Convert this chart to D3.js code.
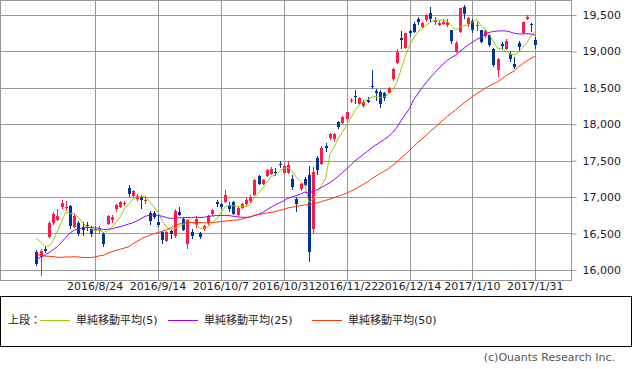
<!DOCTYPE html>
<html>
<head>
<meta charset="utf-8">
<script src="https://cdn.jsdelivr.net/npm/d3@7"></script>
<style>
  body { margin: 0; background: #fff; }
  svg { display: block; }
  text { font-family: "DejaVu Sans", "Noto Sans CJK JP", sans-serif; }
</style>
</head>
<body>
<div id="chart"></div>
<script>
// trading days shown (2016/8/3 .. 2017/1/31)
var dates = [
  '2016/8/3','2016/8/4','2016/8/5','2016/8/8','2016/8/9','2016/8/10','2016/8/12','2016/8/15','2016/8/16','2016/8/17',
  '2016/8/18','2016/8/19','2016/8/22','2016/8/23','2016/8/24','2016/8/25','2016/8/26','2016/8/29','2016/8/30','2016/8/31',
  '2016/9/1','2016/9/2','2016/9/5','2016/9/6','2016/9/7','2016/9/8','2016/9/9','2016/9/12','2016/9/13','2016/9/14',
  '2016/9/15','2016/9/16','2016/9/20','2016/9/21','2016/9/23','2016/9/26','2016/9/27','2016/9/28','2016/9/29','2016/9/30',
  '2016/10/3','2016/10/4','2016/10/5','2016/10/6','2016/10/7','2016/10/11','2016/10/12','2016/10/13','2016/10/14','2016/10/17',
  '2016/10/18','2016/10/19','2016/10/20','2016/10/21','2016/10/24','2016/10/25','2016/10/26','2016/10/27','2016/10/28','2016/10/31',
  '2016/11/1','2016/11/2','2016/11/4','2016/11/7','2016/11/8','2016/11/9','2016/11/10','2016/11/11','2016/11/14','2016/11/15',
  '2016/11/16','2016/11/17','2016/11/18','2016/11/21','2016/11/22','2016/11/24','2016/11/25','2016/11/28','2016/11/29','2016/11/30',
  '2016/12/1','2016/12/2','2016/12/5','2016/12/6','2016/12/7','2016/12/8','2016/12/9','2016/12/12','2016/12/13','2016/12/14',
  '2016/12/15','2016/12/16','2016/12/19','2016/12/20','2016/12/21','2016/12/22','2016/12/26','2016/12/27','2016/12/28','2016/12/29',
  '2016/12/30','2017/1/4','2017/1/5','2017/1/6','2017/1/10','2017/1/11','2017/1/12','2017/1/13','2017/1/16','2017/1/17',
  '2017/1/18','2017/1/19','2017/1/20','2017/1/23','2017/1/24','2017/1/25','2017/1/26','2017/1/27','2017/1/30','2017/1/31'
];

var opens = [
  16245,16175,16285,16450,16640,16690,16865,16850,16880,16590,
  16650,16590,16620,16565,16530,16545,16490,16630,16680,16830,
  16870,16900,17130,17020,16975,17005,16940,16780,16780,16660,
  16520,16400,16540,16470,16790,16700,16360,16520,16620,16500,
  16560,16640,16770,16930,16900,16930,16890,16930,16750,16850,
  16900,16945,17023,17288,17180,17288,17320,17350,17450,17330,
  17330,17250,16980,17110,17250,17300,16560,17530,17460,17700,
  17815,17800,18030,18017,18077,18315,18390,18285,18250,18340,
  18530,18460,18450,18430,18430,18620,18840,19180,19045,19280,
  19380,19440,19335,19430,19535,19400,19370,19380,19370,19290,
  18995,19270,19615,19384,19420,19345,19290,19215,19220,19040,
  18742,19100,19040,18970,18834,19110,19250,19452,19375,19160
];
var highs = [
  16270,16290,16330,16670,16790,16830,16960,16940,16890,16770,
  16670,16656,16660,16600,16600,16600,16518,16760,16760,16910,
  16950,16950,17160,17100,17040,17030,17010,16803,16810,16780,
  16530,16530,16560,16830,16860,16720,16700,16560,16740,16520,
  16620,16750,16840,16960,16920,17100,16930,16940,16880,16920,
  16990,17030,17250,17300,17250,17390,17410,17394,17500,17450,
  17490,17300,17000,17190,17280,17420,17412,17560,17700,17740,
  17885,17885,18040,18120,18170,18360,18476,18370,18340,18380,
  18750,18490,18470,18440,18510,18770,19040,19278,19260,19300,
  19400,19470,19410,19520,19604,19477,19420,19440,19440,19300,
  19140,19594,19635,19480,19440,19400,19300,19300,19240,19050,
  18910,19130,19165,19000,18925,19140,19410,19500,19390,19195
];
var lows = [
  16050,15920,16235,16440,16620,16665,16840,16815,16560,16570,
  16470,16460,16540,16450,16490,16510,16312,16610,16650,16800,
  16850,16880,17000,17000,16950,16840,16900,16610,16700,16590,
  16360,16380,16430,16440,16740,16530,16290,16420,16580,16420,
  16540,16620,16740,16870,16830,16920,16800,16760,16730,16830,
  16880,16920,17010,17160,17160,17270,17300,17283,17404,17320,
  17320,17092,16793,17090,17150,16110,16500,17300,17440,17620,
  17780,17760,17940,18000,18060,18290,18284,18260,18230,18290,
  18480,18320,18230,18320,18410,18600,18830,19040,19030,19200,
  19250,19370,19310,19410,19406,19362,19350,19360,19340,19100,
  18980,19260,19450,19340,19260,19280,19110,19180,19060,18780,
  18650,19026,19020,18860,18765,18990,19240,19431,19268,19030
];
var closes = [
  16083,16254,16254,16650,16764,16735,16919,16869,16596,16745,
  16486,16545,16598,16497,16555,16556,16360,16737,16725,16887,
  16926,16925,17037,17081,17012,16958,16965,16672,16729,16614,
  16405,16519,16492,16807,16754,16544,16683,16465,16693,16449,
  16598,16735,16819,16899,16860,17024,16840,16774,16856,16900,
  16963,16998,17235,17184,17234,17365,17391,17336,17446,17425,
  17442,17134,16905,17177,17171,16251,17344,17374,17672,17668,
  17862,17862,17967,18106,18162,18333,18381,18356,18307,18308,
  18513,18426,18274,18360,18496,18765,18996,19155,19250,19253,
  19273,19401,19391,19494,19444,19427,19396,19403,19401,19145,
  19114,19594,19520,19454,19301,19364,19134,19287,19095,18813,
  18894,19072,19137,18891,18787,19057,19402,19467,19368,19090
];

// closes before the first shown day (2016/5/25 .. 2016/8/2), used by the moving averages
var priorCloses = [
  16757,16772,16834,16955,17235,
  16955,16562,16642,16580,16675,16830,16668,16601,16019,15859,
  15919,15434,15599,15965,16169,16065,16238,14952,15309,15323,
  15566,15575,15682,15775,15669,15378,15276,15106,15708,16095,
  16231,16385,16497,16723,16681,16810,16627,16620,16383,16664,
  16476,16569,16635,16391
];

var yTicks = [16000, 16500, 17000, 17500, 18000, 18500, 19000, 19500];
var xTickLabels = ['2016/8/24','2016/9/14','2016/10/7','2016/10/31','2016/11/22','2016/12/14','2017/1/10','2017/1/31'];

var maPeriods = [5, 25, 50];
var maColors = ['#99cc00', '#9900ff', '#ff3300'];
var legendLabels = ['単純移動平均(5)', '単純移動平均(25)', '単純移動平均(50)'];

var width = 633, height = 369;
var plotLeft = 0.5, plotRight = 571.5, plotTop = 0.5, plotBottom = 280.5;

var svg = d3.select('#chart').append('svg')
  .attr('width', width)
  .attr('height', height);

var x = d3.scaleLinear()
  .domain([0, dates.length - 1])
  .range([36.4, 535.3]);

var y = d3.scaleLinear()
  .domain([15854, 19700])
  .range([plotBottom, plotTop]);

// grid
var grid = svg.append('g').attr('shape-rendering', 'crispEdges');

grid.selectAll('line.hgrid').data(yTicks).enter().append('line')
  .attr('class', 'hgrid')
  .attr('x1', plotLeft).attr('x2', plotRight)
  .attr('y1', function(d) { return Math.round(y(d)) + 0.5; })
  .attr('y2', function(d) { return Math.round(y(d)) + 0.5; })
  .attr('stroke', '#999');

grid.selectAll('line.vgrid').data(xTickLabels).enter().append('line')
  .attr('class', 'vgrid')
  .attr('x1', function(d) { return Math.round(x(dates.indexOf(d))) + 0.5; })
  .attr('x2', function(d) { return Math.round(x(dates.indexOf(d))) + 0.5; })
  .attr('y1', plotTop).attr('y2', plotBottom)
  .attr('stroke', '#999');

grid.append('rect')
  .attr('x', plotLeft).attr('y', plotTop)
  .attr('width', plotRight - plotLeft).attr('height', plotBottom - plotTop)
  .attr('fill', 'none')
  .attr('stroke', '#999');

// y axis on the right
var yAxis = d3.axisRight(y)
  .tickValues(yTicks)
  .tickSize(5)
  .tickPadding(6)
  .tickFormat(d3.format(','));

var yAxisG = svg.append('g')
  .attr('transform', 'translate(' + plotRight + ',0)')
  .call(yAxis);
yAxisG.select('.domain').remove();
yAxisG.selectAll('.tick line').attr('stroke', '#999');
yAxisG.selectAll('.tick text')
  .attr('fill', '#222')
  .style('font-size', '11px')
  .style('font-family', '"DejaVu Sans", sans-serif');

// x labels
svg.append('g').selectAll('text').data(xTickLabels).enter().append('text')
  .attr('x', function(d) { return x(dates.indexOf(d)); })
  .attr('y', 290)
  .attr('text-anchor', 'middle')
  .attr('fill', '#222')
  .style('font-size', '11px')
  .text(function(d) { return d; });

// candles
var candles = dates.map(function(d, i) {
  return { date: d, open: opens[i], high: highs[i], low: lows[i], close: closes[i], i: i };
});

var candleG = svg.append('g').attr('shape-rendering', 'crispEdges');

candleG.selectAll('line.wick').data(candles).enter().append('line')
  .attr('class', 'wick')
  .attr('x1', function(d) { return Math.round(x(d.i)) + 0.5; })
  .attr('x2', function(d) { return Math.round(x(d.i)) + 0.5; })
  .attr('y1', function(d) { return y(d.high); })
  .attr('y2', function(d) { return y(d.low); })
  .attr('stroke', function(d) { return d.close >= d.open ? '#ff1a4a' : '#003399'; });

candleG.selectAll('rect.body').data(candles).enter().append('rect')
  .attr('class', 'body')
  .attr('x', function(d) { return Math.round(x(d.i)) - 1; })
  .attr('width', 3)
  .attr('y', function(d) { return y(Math.max(d.open, d.close)); })
  .attr('height', function(d) { return Math.max(1, Math.abs(y(d.open) - y(d.close))); })
  .attr('fill', function(d) { return d.close >= d.open ? '#ff1a4a' : '#003399'; });

// moving averages
var allCloses = priorCloses.concat(closes);
var offset = priorCloses.length;

function movingAverage(n) {
  return closes.map(function(c, i) {
    var end = i + offset + 1;
    return d3.mean(allCloses.slice(end - n, end));
  });
}

var line = d3.line()
  .x(function(d, i) { return x(i); })
  .y(function(d) { return y(d); });

maPeriods.forEach(function(n, k) {
  svg.append('path')
    .datum(movingAverage(n))
    .attr('d', line)
    .attr('fill', 'none')
    .attr('stroke', maColors[k])
    .attr('stroke-width', 1);
});

// legend box
var legend = svg.append('g');
legend.append('rect')
  .attr('x', 0.5).attr('y', 296.5)
  .attr('width', 631).attr('height', 50)
  .attr('fill', 'none')
  .attr('stroke', '#000')
  .attr('shape-rendering', 'crispEdges');

legend.append('text')
  .attr('x', 8).attr('y', 324)
  .style('font-size', '11px')
  .attr('fill', '#222')
  .text('上段：');

var legendX = [40, 168, 312];
legendLabels.forEach(function(label, k) {
  legend.append('line')
    .attr('x1', legendX[k]).attr('x2', legendX[k] + 30)
    .attr('y1', 320.5).attr('y2', 320.5)
    .attr('stroke', maColors[k])
    .attr('shape-rendering', 'crispEdges');
  legend.append('text')
    .attr('x', legendX[k] + 36).attr('y', 324)
    .style('font-size', '11px')
    .attr('fill', '#222')
    .text(label);
});

svg.append('text')
  .attr('x', 615).attr('y', 361)
  .attr('text-anchor', 'end')
  .style('font-size', '11px')
  .attr('fill', '#555')
  .text('(c)Ouants Research Inc.');
</script>
</body>
</html>
